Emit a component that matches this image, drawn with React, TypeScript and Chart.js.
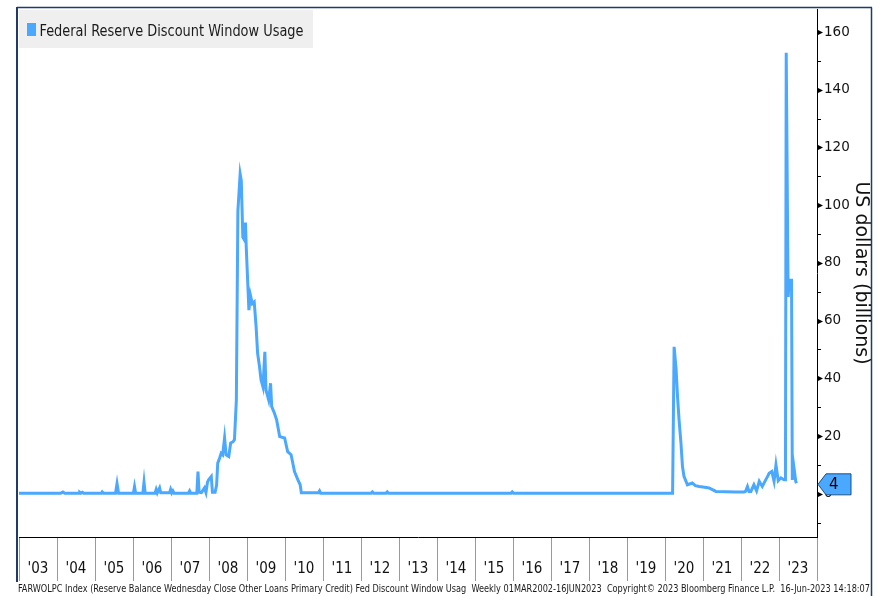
import React, { useEffect, useRef } from 'react';
import { Chart, registerables } from 'chart.js';

Chart.register(...registerables);

// ---- DATA ----
const yearLabels = ["'03", "'04", "'05", "'06", "'07", "'08", "'09", "'10", "'11", "'12", "'13", "'14", "'15", "'16", "'17", "'18", "'19", "'20", "'21", "'22", "'23"];
const firstYear = 2003;
const lastYear = 2024;

const weekYears = [
  2003.0, 2004.1, 2004.157, 2004.2, 2004.58, 2004.6, 2004.63, 2004.67, 2004.7, 2005.17,
  2005.19, 2005.22, 2005.54, 2005.58, 2005.62, 2006.01, 2006.04, 2006.07, 2006.26, 2006.29,
  2006.32, 2006.58, 2006.61, 2006.64, 2006.7, 2006.73, 2006.96, 2006.99, 2007.02, 2007.05,
  2007.08, 2007.46, 2007.49, 2007.52, 2007.68, 2007.71, 2007.74, 2007.8, 2007.88, 2007.92,
  2007.96, 2007.99, 2008.03, 2008.06, 2008.09, 2008.16, 2008.2, 2008.23, 2008.28, 2008.32,
  2008.36, 2008.41, 2008.45, 2008.52, 2008.57, 2008.63, 2008.67, 2008.72, 2008.76, 2008.82,
  2008.85, 2008.89, 2008.93, 2008.96, 2008.98, 2009.05, 2009.09, 2009.14, 2009.19, 2009.24,
  2009.28, 2009.33, 2009.37, 2009.42, 2009.47, 2009.5, 2009.57, 2009.62, 2009.65, 2009.72,
  2009.78, 2009.86, 2009.99, 2010.07, 2010.16, 2010.25, 2010.34, 2010.4, 2010.43, 2010.88,
  2010.91, 2010.94, 2012.27, 2012.3, 2012.33, 2012.66, 2012.69, 2012.72, 2015.95, 2015.98,
  2016.01, 2020.2, 2020.24, 2020.29, 2020.33, 2020.37, 2020.42, 2020.46, 2020.5, 2020.59,
  2020.72, 2020.8, 2020.9, 2021.0, 2021.16, 2021.34, 2021.6, 2021.86, 2022.08, 2022.12,
  2022.17, 2022.21, 2022.26, 2022.34, 2022.41, 2022.48, 2022.56, 2022.65, 2022.7, 2022.74,
  2022.81, 2022.87, 2022.92, 2022.98, 2023.05, 2023.13, 2023.17, 2023.19, 2023.24, 2023.27,
  2023.33, 2023.35, 2023.39, 2023.44, 2023.46,
];

// Federal Reserve discount window usage, US$ billions
const usageBillions = [
  0.2, 0.2, 0.6, 0.2, 0.2, 0.5, 0.2, 0.5, 0.2, 0.2,
  0.6, 0.2, 0.2, 3.5, 0.2, 0.2, 2.5, 0.2, 0.2, 4.0,
  0.2, 0.2, 1.5, 0.3, 2.0, 0.3, 0.3, 1.5, 0.3, 1.0,
  0.2, 0.2, 1.0, 0.2, 0.2, 7.7, 0.5, 0.4, 2.0, 0.4,
  4.0, 4.8, 5.5, 6.0, 0.5, 0.5, 3.0, 10.6, 12.4, 14.0,
  13.5, 19.3, 13.5, 12.9, 17.6, 18.0, 18.7, 32.5, 98.0, 110.8,
  108.5, 88.9, 88.0, 94.0, 85.5, 63.6, 68.8, 65.9, 66.5, 57.8,
  48.6, 44.0, 39.4, 37.0, 49.2, 35.9, 32.5, 38.3, 30.2, 28.0,
  25.6, 19.8, 19.3, 14.6, 13.5, 7.7, 4.8, 3.1, 0.3, 0.3,
  1.0, 0.2, 0.2, 0.6, 0.2, 0.2, 0.6, 0.2, 0.2, 0.6,
  0.2, 0.2, 50.9, 43.5, 33.6, 25.6, 17.5, 9.4, 6.0, 3.1,
  3.7, 2.8, 2.5, 2.3, 2.0, 0.8, 0.7, 0.6, 0.6, 0.8,
  2.5, 0.8, 0.8, 3.1, 1.0, 4.3, 2.5, 4.8, 6.0, 7.1,
  7.7, 4.3, 10.0, 4.5, 5.5, 4.8, 4.8, 152.8, 68.2, 74.0,
  74.0, 4.8, 9.4, 4.3, 3.6,
];

const yMin = -15;
const yMax = 168;
const yStep = 10;
const yLabelStep = 20;

const seriesName = 'Federal Reserve Discount Window Usage';
const yTitle = 'US dollars (billions)';
const footerText =
  'FARWOLPC Index (Reserve Balance Wednesday Close Other Loans Primary Credit) Fed Discount Window Usag  Weekly 01MAR2002-16JUN2023  Copyright\u00A9 2023 Bloomberg Finance L.P.  16-Jun-2023 14:18:07';

// ---- STYLE ----
const LINE_COLOR = '#4aa8ff';
const FRAME_COLOR = '#1f3a6b';

function fitText(ctx: CanvasRenderingContext2D, text: string, x: number, y: number, width: number, font: string, color: string) {
  ctx.save();
  ctx.font = font;
  ctx.fillStyle = color;
  ctx.textBaseline = 'alphabetic';
  ctx.textAlign = 'left';
  const w = ctx.measureText(text).width;
  ctx.translate(x, y);
  ctx.scale(width / w, 1);
  ctx.fillText(text, 0, 0);
  ctx.restore();
}

const decorPlugin = {
  id: 'bbgDecor',
  beforeDraw(chart: any) {
    const ctx = chart.ctx as CanvasRenderingContext2D;
    ctx.save();
    ctx.fillStyle = '#ffffff';
    ctx.fillRect(0, 0, chart.width, chart.height);
    ctx.restore();
  },
  afterDraw(chart: any) {
    const ctx = chart.ctx as CanvasRenderingContext2D;
    const area = chart.chartArea;
    const yScale = chart.scales.y;

    // y tick marks: triangles for labelled ticks, short lines for minor
    ctx.save();
    ctx.fillStyle = '#000';
    ctx.strokeStyle = '#000';
    ctx.lineWidth = 1;
    yScale.ticks.forEach((t: any) => {
      const py = Math.round(yScale.getPixelForValue(t.value)) + 0.5;
      if (t.value % yLabelStep === 0) {
        ctx.beginPath();
        ctx.moveTo(area.right, py - 3);
        ctx.lineTo(area.right + 6, py);
        ctx.lineTo(area.right, py + 3);
        ctx.closePath();
        ctx.fill();
      } else {
        ctx.beginPath();
        ctx.moveTo(area.right, py);
        ctx.lineTo(area.right + 4, py);
        ctx.stroke();
      }
    });
    ctx.restore();

    // legend box
    ctx.save();
    ctx.fillStyle = '#efefef';
    ctx.fillRect(area.left, 10, 294, 38);
    ctx.fillStyle = LINE_COLOR;
    ctx.fillRect(27, 23, 9, 13);
    ctx.restore();
    fitText(ctx, seriesName, 39.5, 36, 264, '16px "DejaVu Sans Condensed", "DejaVu Sans", sans-serif', '#1a1a1a');

    // last value tag
    const lastVal = usageBillions[usageBillions.length - 1];
    const ty = yScale.getPixelForValue(lastVal) + 1;
    ctx.save();
    ctx.fillStyle = LINE_COLOR;
    ctx.strokeStyle = '#1b4f86';
    ctx.lineWidth = 1;
    ctx.beginPath();
    ctx.moveTo(area.right + 1, ty);
    ctx.lineTo(area.right + 9, ty - 10.5);
    ctx.lineTo(area.right + 34, ty - 10.5);
    ctx.lineTo(area.right + 34, ty + 10.5);
    ctx.lineTo(area.right + 9, ty + 10.5);
    ctx.closePath();
    ctx.fill();
    ctx.stroke();
    ctx.fillStyle = '#000';
    ctx.font = '15px "DejaVu Sans", sans-serif';
    ctx.textBaseline = 'middle';
    ctx.textAlign = 'left';
    ctx.fillText(String(Math.round(lastVal)), area.right + 12, ty + 1);
    ctx.restore();

    // outer frame
    ctx.save();
    ctx.strokeStyle = FRAME_COLOR;
    ctx.lineWidth = 1.5;
    ctx.beginPath();
    ctx.moveTo(17, 7.5);
    ctx.lineTo(872, 7.5);
    ctx.moveTo(871.5, 7.5);
    ctx.lineTo(871.5, 596);
    ctx.stroke();
    ctx.lineWidth = 2;
    ctx.beginPath();
    ctx.moveTo(17, 7);
    ctx.lineTo(17, 582);
    ctx.stroke();
    ctx.restore();

    // footer
    fitText(ctx, footerText, 18, 592, 852, '11px "DejaVu Sans Condensed", "DejaVu Sans", sans-serif', '#1a1a1a');
  },
};

export default function App() {
  const canvasRef = useRef<HTMLCanvasElement | null>(null);

  useEffect(() => {
    if (!canvasRef.current) return;
    const points = weekYears.map((x, i) => ({ x, y: usageBillions[i] }));
    const chart = new Chart(canvasRef.current, {
      type: 'line',
      data: {
        datasets: [
          {
            label: seriesName,
            data: points,
            borderColor: LINE_COLOR,
            backgroundColor: LINE_COLOR,
            borderWidth: 3,
            pointRadius: 0,
            tension: 0,
            fill: false,
          },
        ],
      },
      options: {
        responsive: false,
        animation: false,
        devicePixelRatio: 1,
        layout: { padding: { left: 19, top: 9, right: 0, bottom: 0 } },
        plugins: {
          legend: { display: false },
          tooltip: { enabled: false },
          title: { display: false },
        },
        scales: {
          x: {
            type: 'linear',
            position: 'bottom',
            min: firstYear,
            max: lastYear,
            afterBuildTicks: (scale: any) => {
              scale.ticks = yearLabels.map((_, i) => ({ value: firstYear + 0.5 + i }));
            },
            afterFit: (scale: any) => {
              scale.height = 59;
              scale.paddingLeft = 0;
              scale.paddingRight = 0;
            },
            ticks: {
              autoSkip: false,
              maxRotation: 0,
              minRotation: 0,
              padding: -21,
              color: '#111',
              font: { family: '"DejaVu Sans Condensed", "DejaVu Sans", sans-serif', size: 15 },
              callback: (_v: any, i: number) => yearLabels[i],
            },
            grid: {
              display: true,
              drawOnChartArea: false,
              drawTicks: true,
              tickLength: 44,
              offset: true,
              color: '#9a9a9a',
              tickColor: '#9a9a9a',
              lineWidth: 1,
            },
            border: { display: true, color: '#000', width: 1 },
          },
          y: {
            type: 'linear',
            position: 'right',
            min: yMin,
            max: yMax,
            afterFit: (scale: any) => {
              scale.width = 63;
              scale.paddingTop = 0;
              scale.paddingBottom = 0;
            },
            ticks: {
              stepSize: yStep,
              includeBounds: false,
              padding: 7,
              color: '#111',
              font: { family: '"DejaVu Sans", sans-serif', size: 13.5 },
              callback: (v: any) => (v >= 0 && v % yLabelStep === 0 ? String(v) : ''),
            },
            grid: { display: false, drawTicks: false },
            border: { display: true, color: '#000', width: 1 },
            title: {
              display: true,
              text: yTitle,
              color: '#111',
              font: { family: '"DejaVu Sans", sans-serif', size: 19 },
              padding: { top: 8, bottom: 4 },
            },
          },
        },
      },
      plugins: [decorPlugin],
    });
    return () => chart.destroy();
  }, []);

  return (
    <div style={{ position: 'fixed', left: 0, top: 0, width: 880, height: 596, background: '#fff' }}>
      <canvas ref={canvasRef} width={880} height={596} style={{ display: 'block', width: 880, height: 596 }} />
    </div>
  );
}
